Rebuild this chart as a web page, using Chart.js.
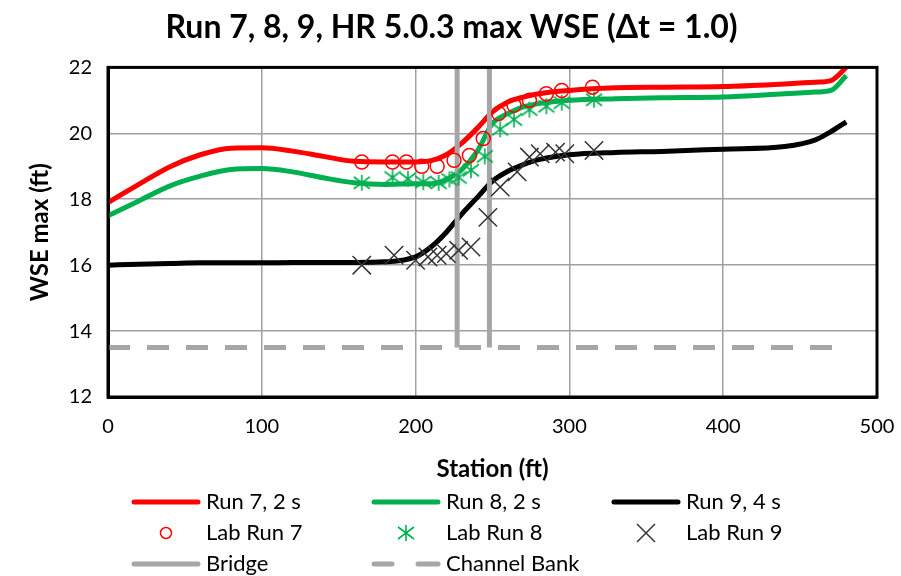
<!DOCTYPE html>
<html>
<head>
<meta charset="utf-8">
<script src="https://cdn.jsdelivr.net/npm/chart.js@4.4.0/dist/chart.umd.min.js"></script>
<style>
  html, body { margin: 0; padding: 0; background: #fff; }
  #wrap { width: 901px; height: 576px; }
</style>
</head>
<body>
<div id="wrap"><canvas id="wse"></canvas></div>
<script>
// model results (station ft, max WSE ft)
const stationLine = [0, 20, 40, 60, 80, 100, 120, 140, 160, 180, 200, 210, 220, 230, 240, 250, 260, 270, 280, 300, 330, 360, 400, 440, 460, 470, 480];
const run7 = [17.9, 18.45, 18.98, 19.35, 19.55, 19.56, 19.46, 19.3, 19.15, 19.13, 19.13, 19.17, 19.35, 19.7, 20.15, 20.65, 20.95, 21.1, 21.2, 21.3, 21.38, 21.4, 21.42, 21.5, 21.55, 21.6, 22.0];
const run8 = [17.5, 17.95, 18.4, 18.7, 18.9, 18.93, 18.83, 18.65, 18.5, 18.45, 18.47, 18.47, 18.6, 18.9, 19.45, 20.3, 20.6, 20.8, 20.9, 21.0, 21.05, 21.08, 21.1, 21.2, 21.25, 21.3, 21.75];
const run9 = [16.0, 16.03, 16.05, 16.07, 16.07, 16.07, 16.08, 16.08, 16.08, 16.1, 16.25, 16.55, 17.0, 17.55, 18.05, 18.55, 18.85, 19.05, 19.2, 19.35, 19.42, 19.45, 19.52, 19.6, 19.8, 20.05, 20.35];

// lab measurements
const labSta7 = [165, 185, 194, 204, 214, 225, 235, 244, 254, 264, 274, 285, 295, 315];
const lab7 = [19.13, 19.13, 19.13, 19.0, 19.0, 19.18, 19.33, 19.84, 20.6, 20.85, 21.0, 21.2, 21.3, 21.4];
const labSta8 = [165, 185, 195, 205, 215, 222, 228, 236, 245, 255, 264, 274, 285, 295, 316];
const lab8 = [18.5, 18.66, 18.62, 18.52, 18.5, 18.6, 18.66, 18.88, 19.3, 20.12, 20.42, 20.72, 20.82, 20.93, 21.02];
const labSta9 = [165, 186, 200, 208, 214, 220, 228, 236, 247, 255, 266, 274, 281, 291, 297, 316];
const lab9 = [16.0, 16.3, 16.15, 16.25, 16.3, 16.35, 16.45, 16.55, 17.45, 18.37, 18.83, 19.28, 19.38, 19.43, 19.38, 19.48];

// bridge faces and channel bank
const bridgeSta = [227, 248];
const bridgeTop = 22;
const bankElev = 13.5;
const bankSta = [0, 481];

const RED = "#FF0000", GREEN = "#00B050", BLACK = "#000000", GRAY = "#A6A6A6";
const FONT = "Lato";

function pts(xs, ys) {
  return xs.map((x, i) => ({ x: x, y: ys[i] }));
}

// asterisk marker: vertical bar plus an X
function asterisk(size, color) {
  const c = document.createElement("canvas");
  c.width = size; c.height = size;
  const g = c.getContext("2d");
  g.strokeStyle = color; g.lineWidth = 1.6;
  const m = size / 2, r = size / 2 - 1;
  g.beginPath();
  g.moveTo(m, 1); g.lineTo(m, size - 1);
  g.moveTo(m - r, m - r * 0.75); g.lineTo(m + r, m + r * 0.75);
  g.moveTo(m + r, m - r * 0.75); g.lineTo(m - r, m + r * 0.75);
  g.stroke();
  return c;
}
const star8 = asterisk(18, GREEN);

const lineDs = (label, data, color) => ({
  label: label, data: data, showLine: true, borderColor: color, backgroundColor: color,
  borderWidth: 5, pointRadius: 0, tension: 0.35, cubicInterpolationMode: "monotone", order: 5
});

const datasets = [
  { label: "Lab Run 7", data: pts(labSta7, lab7), pointStyle: "circle", pointRadius: 7,
    borderColor: RED, backgroundColor: "rgba(0,0,0,0)", pointBorderWidth: 1.5, showLine: false, order: 1 },
  { label: "Lab Run 8", data: pts(labSta8, lab8), pointStyle: star8, pointRadius: 9,
    borderColor: GREEN, backgroundColor: GREEN, showLine: false, order: 1 },
  { label: "Lab Run 9", data: pts(labSta9, lab9), pointStyle: "crossRot", pointRadius: 13,
    borderColor: "#333333", pointBorderWidth: 1.5, showLine: false, order: 1 },
  { label: "Bridge", data: [{ x: bridgeSta[0], y: bankElev }, { x: bridgeSta[0], y: bridgeTop }],
    showLine: true, borderColor: GRAY, borderWidth: 5, pointRadius: 0, order: 3 },
  { label: "Bridge 2", data: [{ x: bridgeSta[1], y: bankElev }, { x: bridgeSta[1], y: bridgeTop }],
    showLine: true, borderColor: GRAY, borderWidth: 5, pointRadius: 0, order: 3 },
  { label: "Channel Bank", data: [{ x: bankSta[0], y: bankElev }, { x: bankSta[1], y: bankElev }],
    showLine: true, borderColor: GRAY, borderWidth: 5, borderDash: [22, 17], pointRadius: 0, order: 6 },
  lineDs("Run 7, 2 s", pts(stationLine, run7), RED),
  lineDs("Run 8, 2 s", pts(stationLine, run8), GREEN),
  lineDs("Run 9, 4 s", pts(stationLine, run9), BLACK),
];

// legend laid out in a 3 column grid under the axis title
const legendItems = [
  { text: "Run 7, 2 s", kind: "line", color: RED },
  { text: "Run 8, 2 s", kind: "line", color: GREEN },
  { text: "Run 9, 4 s", kind: "line", color: BLACK },
  { text: "Lab Run 7", kind: "circle", color: RED },
  { text: "Lab Run 8", kind: "star", color: GREEN },
  { text: "Lab Run 9", kind: "cross", color: "#333333" },
  { text: "Bridge", kind: "line", color: GRAY },
  { text: "Channel Bank", kind: "dash", color: GRAY },
];
const legendCols = [132, 372, 612];
const legendRows = [502, 533, 564];

const gridLegend = {
  id: "gridLegend",
  afterDraw(chart) {
    const ctx = chart.ctx;
    ctx.save();
    legendItems.forEach((it, i) => {
      const x0 = legendCols[i % 3], y = legendRows[Math.floor(i / 3)];
      const cx = x0 + 34;
      ctx.strokeStyle = it.color;
      ctx.lineCap = "round";
      if (it.kind === "line") {
        ctx.lineWidth = 5; ctx.setLineDash([]);
        ctx.beginPath(); ctx.moveTo(x0 + 2, y); ctx.lineTo(x0 + 66, y); ctx.stroke();
      } else if (it.kind === "dash") {
        ctx.lineWidth = 5;
        ctx.beginPath(); ctx.moveTo(x0 + 2, y); ctx.lineTo(x0 + 20, y);
        ctx.moveTo(x0 + 46, y); ctx.lineTo(x0 + 66, y); ctx.stroke();
      } else if (it.kind === "circle") {
        ctx.lineWidth = 1.5;
        ctx.beginPath(); ctx.arc(cx, y, 5.5, 0, Math.PI * 2); ctx.stroke();
      } else if (it.kind === "star") {
        ctx.drawImage(star8, cx - 9, y - 9);
      } else if (it.kind === "cross") {
        ctx.lineWidth = 1.5; ctx.lineCap = "butt";
        ctx.beginPath(); ctx.moveTo(cx - 9, y - 9); ctx.lineTo(cx + 9, y + 9);
        ctx.moveTo(cx + 9, y - 9); ctx.lineTo(cx - 9, y + 9); ctx.stroke();
      }
      ctx.fillStyle = "#000";
      ctx.font = "22px " + FONT;
      ctx.textBaseline = "middle";
      ctx.fillText(it.text, x0 + 74, y);
    });
    ctx.restore();
  }
};

// closed frame round the plot area
const frame = {
  id: "frame",
  afterDatasetsDraw(chart) {
    const a = chart.chartArea, ctx = chart.ctx;
    ctx.save();
    ctx.strokeStyle = "#000"; ctx.lineWidth = 3;
    ctx.strokeRect(a.left, a.top, a.right - a.left, a.bottom - a.top);
    ctx.restore();
  }
};

const config = {
  type: "scatter",
  data: { datasets: datasets },
  options: {
    responsive: true,
    maintainAspectRatio: false,
    animation: false,
    layout: { padding: { left: 26, right: 24, top: 0, bottom: 89 } },
    plugins: {
      legend: { display: false },
      tooltip: { enabled: false },
      title: {
        display: true,
        text: "Run 7, 8, 9, HR 5.0.3 max WSE (\u0394t = 1.0)",
        color: "#000",
        font: { family: FONT, size: 32, weight: "bold" },
        padding: { top: 8, bottom: 21 },
      },
    },
    scales: {
      x: {
        type: "linear", min: 0, max: 500,
        afterFit: (s) => { s.height = 90; s.paddingRight = 0; s.paddingLeft = 0; },
        ticks: { stepSize: 100, color: "#000", padding: 18, font: { family: FONT, size: 20 } },
        grid: { color: "#A0A0A0", lineWidth: 1.5, drawTicks: false },
        border: { color: "#000", width: 3 },
        title: { display: true, text: "Station (ft)", color: "#000", padding: { top: 0, bottom: 3 },
          font: { family: FONT, size: 24, weight: "bold" } },
      },
      y: {
        min: 12, max: 22,
        afterFit: (s) => { s.width = 82; },
        ticks: { stepSize: 2, color: "#000", padding: 16, font: { family: FONT, size: 20 } },
        grid: { color: "#A0A0A0", lineWidth: 1.5, drawTicks: false },
        border: { color: "#000", width: 3 },
        title: { display: true, text: "WSE max (ft)", color: "#000", padding: { top: 0, bottom: 0 },
          font: { family: FONT, size: 24, weight: "bold" } },
      },
    },
  },
  plugins: [frame, gridLegend],
};

const wseChart = new Chart(document.getElementById("wse").getContext("2d"), config);
</script>
</body>
</html>
